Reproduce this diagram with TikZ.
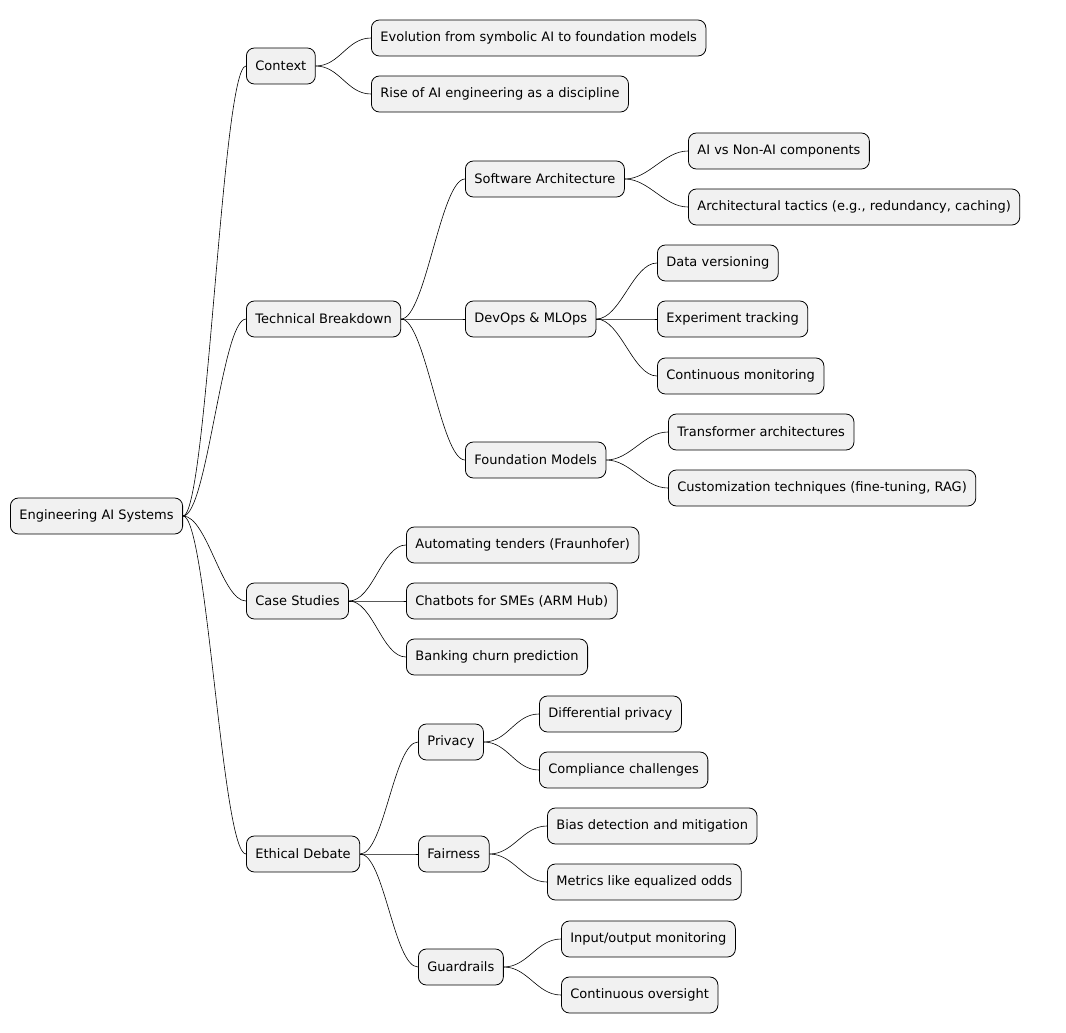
\documentclass[tikz,border=0pt]{standalone}
\usepackage{fontspec}
\setmainfont{DejaVu Sans}
\begin{document}
\begin{tikzpicture}[x=1pt,y=-1pt,
  mm/.style={draw=black,fill={rgb,255:red,241;green,241;blue,241},rounded corners=8pt,
    minimum height=36pt,inner xsep=9pt,anchor=west,font=\fontsize{13}{15}\selectfont,line width=0.8pt},
  lk/.style={line width=0.6pt}]
\useasboundingbox (0,0) rectangle (1066,1033);
\node[mm] (root) at (10,516) {Engineering AI Systems};
\node[mm] (ctx) at (246,66) {Context};
\node[mm] (evo) at (371,38) {Evolution from symbolic AI to foundation models};
\node[mm] (rise) at (371,94) {Rise of AI engineering as a discipline};
\node[mm] (tb) at (246,319) {Technical Breakdown};
\node[mm] (sa) at (465,179) {Software Architecture};
\node[mm] (ai) at (688,151) {AI vs Non-AI components};
\node[mm] (at) at (688,207) {Architectural tactics (e.g., redundancy, caching)};
\node[mm] (dev) at (465,319) {DevOps \& MLOps};
\node[mm] (dv) at (657,263) {Data versioning};
\node[mm] (et) at (657,319) {Experiment tracking};
\node[mm] (cm) at (657,376) {Continuous monitoring};
\node[mm] (fm) at (465,460) {Foundation Models};
\node[mm] (tr) at (668,432) {Transformer architectures};
\node[mm] (cu) at (668,488) {Customization techniques (fine-tuning, RAG)};
\node[mm] (cs) at (246,601) {Case Studies};
\node[mm] (au) at (406,545) {Automating tenders (Fraunhofer)};
\node[mm] (ch) at (406,601) {Chatbots for SMEs (ARM Hub)};
\node[mm] (bk) at (406,657) {Banking churn prediction};
\node[mm] (ed) at (246,854) {Ethical Debate};
\node[mm] (pr) at (418,742) {Privacy};
\node[mm] (dp) at (539,714) {Differential privacy};
\node[mm] (cc) at (539,770) {Compliance challenges};
\node[mm] (fa) at (418,854) {Fairness};
\node[mm] (bi) at (547,826) {Bias detection and mitigation};
\node[mm] (me) at (547,882) {Metrics like equalized odds};
\node[mm] (gu) at (418,967) {Guardrails};
\node[mm] (io) at (561,939) {Input/output monitoring};
\node[mm] (co) at (561,995) {Continuous oversight};
\foreach \p/\c in {root/ctx,root/tb,root/cs,root/ed,ctx/evo,ctx/rise,tb/sa,tb/dev,tb/fm,
  sa/ai,sa/at,dev/dv,dev/et,dev/cm,fm/tr,fm/cu,cs/au,cs/ch,cs/bk,ed/pr,ed/fa,ed/gu,
  pr/dp,pr/cc,fa/bi,fa/me,gu/io,gu/co}
  \draw[lk] (\p.east) .. controls +(24,0) and +(-24,0) .. (\c.west);
\end{tikzpicture}
\end{document}
